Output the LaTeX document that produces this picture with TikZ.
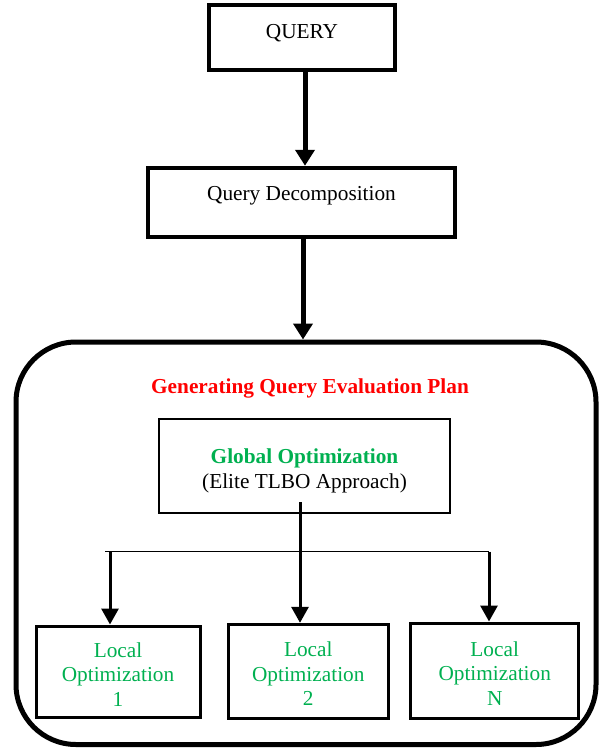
\documentclass[tikz,border=0pt]{standalone}
\usepackage{fontspec}
\setmainfont{Liberation Serif}
\usetikzlibrary{arrows.meta,calc}
\definecolor{tgreen}{HTML}{00B050}
\definecolor{tred}{HTML}{FF0000}
\begin{document}
\begin{tikzpicture}[x=1pt,y=-1pt,
 font=\fontsize{21.3}{24.5}\selectfont,
 box/.style={draw, rectangle, inner sep=0pt, align=center},
 localbox/.style={box, line width=3pt, text=tgreen, text height=75pt, text depth=6pt},
 bigarrow/.style={line width=5pt, -{Triangle[width=19pt,length=16pt]}},
 smallarrow/.style={line width=3pt, -{Triangle[width=17pt,length=16pt]}},
]
\useasboundingbox (0,0) rectangle (599,749);
\node[box, line width=4.5pt, minimum width=186pt, minimum height=65pt, text height=14pt, text depth=12.4pt] (q) at (302,37.5) {QUERY};
\node[box, line width=4.5pt, minimum width=307pt, minimum height=69pt, text height=14pt, text depth=19pt] (d) at (301.5,202.5) {Query Decomposition};
\node[draw, line width=5pt, rounded corners=60pt, minimum width=580pt, minimum height=402.5pt, inner sep=0pt] (plan) at (306,543.25) {};
\node[font=\fontsize{21.3}{24.5}\selectfont\bfseries, text=tred, anchor=base] (title) at (310,393) {Generating Query Evaluation Plan};
\node[box, line width=2.5pt, minimum width=291pt, minimum height=94pt, text height=50pt, text depth=6pt] (g) at (304.5,466) {\textcolor{tgreen}{\bfseries Global Optimization}\\(Elite TLBO Approach)};
\node[localbox, minimum width=164pt, minimum height=91pt] (l1) at (118,671.5) {Local\\Optimization\\1};
\node[localbox, minimum width=160pt, minimum height=94pt] (l2) at (308.25,671.3) {Local\\Optimization\\2};
\node[localbox, minimum width=168pt, minimum height=95pt] (lN) at (494.7,670.5) {Local\\Optimization\\N};
\coordinate (ax1) at (305,0);
\coordinate (ax2) at (303,0);
\coordinate (gs) at (300,502);
\coordinate (hl) at (105,551.5);
\coordinate (hr) at (489,551.5);
\coordinate (hc1) at (110,551.5);
\draw[bigarrow] (q.south -| ax1) -- (d.north -| ax1);
\draw[bigarrow] (d.south -| ax2) -- (plan.north -| ax2);
\draw[smallarrow] (gs) -- (gs |- l2.north);
\draw[line width=1.5pt] (hl) -- (hr);
\draw[smallarrow] (hc1) -- (hc1 |- l1.north);
\draw[smallarrow] (hr) -- (hr |- lN.north);
\end{tikzpicture}
\end{document}
